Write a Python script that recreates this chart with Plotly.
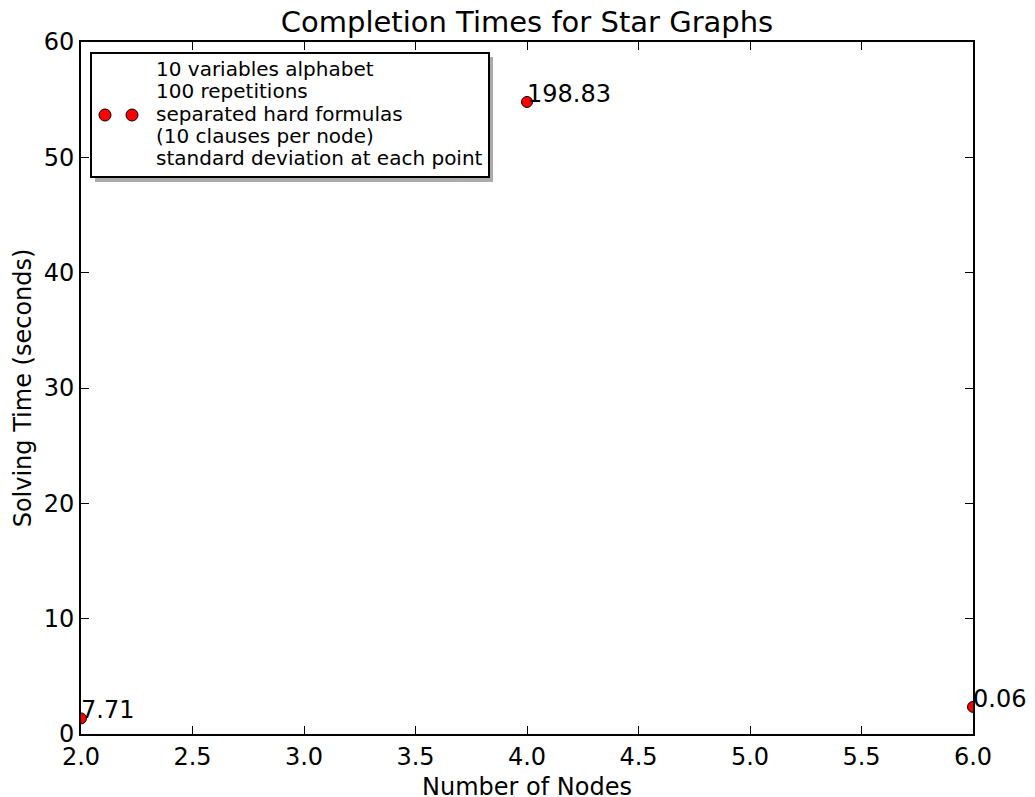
import plotly.graph_objects as go

# Measured solving times for star graphs
nodes = [2, 4, 6]
solve_times = [1.35, 54.8, 2.35]
std_devs = [7.71, 198.83, 0.06]

x_ticks = [2.0, 2.5, 3.0, 3.5, 4.0, 4.5, 5.0, 5.5, 6.0]
y_ticks = [0, 10, 20, 30, 40, 50, 60]

legend_lines = [
    "10 variables alphabet",
    "100 repetitions",
    "separated hard formulas",
    "(10 clauses per node)",
    "standard deviation at each point",
]

W, H = 1035, 797
ML, MR, MT, MB = 81, 62, 42, 63
PW, PH = W - ML - MR, H - MT - MB
FONT = "DejaVu Sans"


def px(x):
    return (x - ML) / PW


def py(y):
    return (H - MB - y) / PH


fig = go.Figure()
fig.add_trace(go.Scatter(
    x=nodes, y=solve_times, mode="markers",
    marker=dict(size=11, color="red", line=dict(color="black", width=1)),
    showlegend=False, cliponaxis=True,
))

# standard deviation printed next to each point
for xv, yv, sd in zip(nodes, solve_times, std_devs):
    fig.add_annotation(
        x=xv, y=yv, xref="x", yref="y", text=f"{sd:.2f}",
        showarrow=False, xanchor="left", yanchor="bottom",
        xshift=-2, yshift=-8,
        font=dict(family=FONT, size=24, color="black"),
    )

# legend box with drop shadow
fig.add_shape(type="rect", xref="paper", yref="paper",
              x0=px(95), x1=px(493), y0=py(182), y1=py(57),
              fillcolor="#ababab", line=dict(width=0), layer="above")
fig.add_shape(type="rect", xref="paper", yref="paper",
              x0=px(91), x1=px(489), y0=py(177), y1=py(53),
              fillcolor="white", line=dict(color="black", width=2), layer="above")
for mx in (105, 132):
    fig.add_shape(type="circle", xref="paper", yref="paper",
                  xsizemode="pixel", ysizemode="pixel",
                  xanchor=px(mx), yanchor=py(115),
                  x0=-6, x1=6, y0=-6, y1=6,
                  fillcolor="red", line=dict(color="black", width=1), layer="above")
for i, line in enumerate(legend_lines):
    base = 76 + i * 22.3
    fig.add_annotation(
        x=px(154), y=py(base), xref="paper", yref="paper", text=line,
        showarrow=False, xanchor="left", yanchor="bottom", yshift=-7,
        font=dict(family=FONT, size=20, color="black"),
    )

# x-axis title placed just under the tick labels
fig.add_annotation(
    x=0.5, y=py(787), xref="paper", yref="paper", text="Number of Nodes",
    showarrow=False, xanchor="center", yanchor="middle",
    font=dict(family=FONT, size=24, color="black"),
)

axis_common = dict(
    showgrid=False, zeroline=False, showline=True, linecolor="black", linewidth=2,
    mirror="ticks", ticks="inside", ticklen=8, tickwidth=1, tickcolor="black",
    tickfont=dict(family=FONT, size=24, color="black"), automargin=False,
)

fig.update_layout(
    width=W, height=H,
    margin=dict(l=ML, r=MR, t=MT, b=MB),
    paper_bgcolor="white", plot_bgcolor="white",
    title=dict(text="Completion Times for Star Graphs", x=px((ML + ML + PW) / 2),
               xref="paper", xanchor="center", yref="container", y=1 - 22 / H,
               yanchor="middle", font=dict(family=FONT, size=29, color="black")),
    xaxis=dict(range=[2, 6], tickvals=x_ticks, ticktext=[f"{v:.1f}" for v in x_ticks],
               **axis_common),
    yaxis=dict(range=[0, 60], tickvals=y_ticks, ticktext=[str(v) for v in y_ticks],
               title=dict(text="Solving Time (seconds)", standoff=5,
                          font=dict(family=FONT, size=24, color="black")),
               **axis_common),
    showlegend=False,
)

fig.write_html("out.html")
